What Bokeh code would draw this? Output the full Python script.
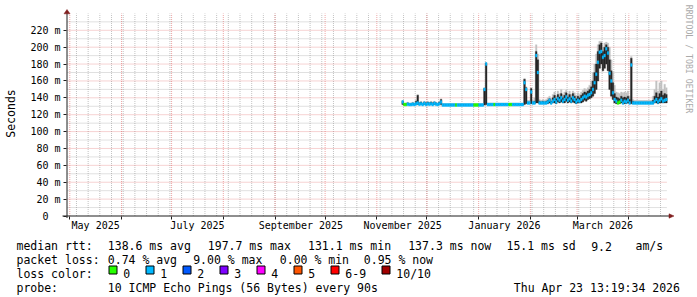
import math
import pandas as pd
from bokeh.plotting import figure
from bokeh.models import Range1d, FixedTicker, ColumnDataSource
from bokeh.core.properties import value
from bokeh.embed import file_html
from bokeh.resources import INLINE

# ---------------- data ----------------
first_day = "2025-11-16"          # first daily sample
axis_origin = "2025-05-01"        # x = days since this date
last_day = "2026-04-23 13:19:34"

median_ms = [
    135, 132, 132, 132.5, 132, 132, 132.5, 132, 133, 134,
    132.5, 133, 132, 133.5, 132, 133, 132.5, 133, 132, 133.5,
    132.5, 132, 133, 135, 131.5, 131.5, 131.5, 131.5, 131.5, 131.5,
    131.5, 131.5, 131.5, 131.5, 131.5, 131.5, 131.5, 131.5, 131.5, 131.5,
    131.5, 131.5, 131.5, 131.5, 131.5, 131.5, 131.5, 131.5, 131.5, 150,
    180, 132, 132, 132, 132, 132, 132, 132, 132, 132,
    132, 132, 132, 132, 132, 132, 132, 132, 132, 132,
    132, 132, 132, 158, 150, 134, 134, 147, 134, 134,
    190, 170, 134, 134, 134, 134, 134, 135, 137, 134,
    136, 138, 135, 139, 137, 140, 136, 138, 141, 137,
    139, 136, 140, 138, 135, 137, 136, 138, 140, 142,
    141, 143, 144, 146, 150, 158, 168, 182, 194, 195,
    188, 190, 198, 193, 169, 160, 146, 138, 136, 134,
    135, 137, 134, 136, 135, 137, 134, 179, 134, 134,
    134, 134, 134, 134, 134, 134, 134, 134, 134, 134,
    134, 136, 138, 135, 137, 139, 136, 137, 138,
]

# lowest ping of the day (bottom of the smoke)
smoke_bottom_ms = [
    132, 131.5, 131.5, 132, 131.5, 131.5, 132, 131.5, 132, 132,
    132, 132, 131.5, 132, 131.5, 132, 132, 132, 131.5, 132,
    132, 131.5, 132, 132, 131, 131, 131, 131, 131, 131,
    131, 131, 131, 131, 131, 131, 131, 131, 131, 131,
    131, 131, 131, 131, 131, 131, 131, 131, 131, 131.5,
    132, 131.5, 131.5, 131.5, 131.5, 131.5, 131.5, 131.5, 131.5, 131.5,
    131.5, 131.5, 131.5, 131.5, 131.5, 131.5, 131.5, 131.5, 131.5, 131.5,
    131.5, 131.5, 131.5, 132, 133, 133, 133, 133, 133, 133,
    134, 134, 133, 133, 133, 133, 133, 133, 134, 133,
    134, 134, 133, 135, 134, 135, 134, 134, 136, 134,
    135, 134, 135, 134, 133, 134, 134, 134, 135, 137,
    136, 138, 139, 140, 142, 145, 150, 160, 175, 180,
    172, 175, 180, 172, 150, 142, 138, 134, 133, 133,
    133, 134, 133, 133, 133, 134, 133, 133, 133, 133,
    133, 133, 133, 133, 133, 133, 133, 133, 133, 133,
    133, 134, 134, 133, 134, 134, 134, 134, 134,
]

# top of the dense (dark) part of the smoke
core_top_ms = [
    136, 133, 133, 134, 133, 133, 134, 133, 136, 143,
    134, 135, 133, 135, 134, 135, 134, 135, 134, 135,
    134, 133, 135, 138, 132.5, 132.5, 132.5, 132.5, 132.5, 132.5,
    132.5, 132.5, 132.5, 132.5, 132.5, 132.5, 132.5, 132.5, 132.5, 132.5,
    132.5, 132.5, 132.5, 132.5, 132.5, 132.5, 132.5, 132.5, 132.5, 151,
    181, 133, 133, 133, 133, 133, 133, 133, 133, 133,
    133, 133, 133, 133, 133, 133, 133, 133, 133, 133,
    133, 133, 133, 162, 152, 135, 135, 151, 135, 136,
    195, 185, 136, 135, 136, 135, 136, 137, 139, 136,
    140, 143, 139, 144, 141, 145, 140, 143, 146, 141,
    144, 140, 145, 142, 139, 142, 140, 143, 145, 147,
    146, 148, 150, 153, 160, 170, 180, 195, 203, 205,
    195, 200, 203, 200, 185, 172, 158, 145, 141, 140,
    139, 142, 140, 141, 140, 142, 138, 187, 136, 135,
    135, 135, 135, 135, 135, 135, 135, 135, 135, 135,
    137, 142, 146, 141, 145, 148, 143, 145, 144,
]

# highest ping of the day (top of the light smoke)
smoke_top_ms = [
    137, 134, 134, 135, 134, 134, 135, 134, 137, 144,
    135, 136, 134, 136, 135, 136, 135, 136, 135, 136,
    135, 134, 136, 139, 133, 133, 133, 133, 133, 133,
    133, 133, 133, 133, 133, 133, 133, 133, 133, 133,
    133, 133, 133, 133, 133, 133, 133, 133, 133, 152,
    182, 134, 134, 134, 134, 134, 134, 134, 134, 134,
    134, 134, 134, 134, 134, 134, 134, 134, 134, 134,
    134, 134, 134, 163, 153, 137, 137, 152, 137, 140,
    203, 192, 138, 137, 138, 137, 138, 140, 142, 139,
    144, 147, 142, 148, 145, 150, 144, 147, 149, 145,
    148, 144, 148, 146, 143, 146, 144, 147, 149, 151,
    150, 152, 155, 160, 170, 180, 192, 203, 207, 207,
    200, 205, 206, 205, 200, 185, 170, 155, 147, 146,
    145, 147, 146, 147, 146, 148, 142, 189, 138, 137,
    137, 137, 137, 137, 137, 137, 137, 137, 137, 137,
    142, 150, 160, 148, 158, 160, 150, 156, 152,
]

# loss bucket of the median (index into loss_names / loss_colors)
loss_level = [
    1, 0, 0, 1, 1, 1, 1, 1, 1, 1,
    1, 1, 1, 1, 1, 1, 1, 1, 1, 1,
    1, 1, 1, 1, 1, 1, 1, 1, 1, 1,
    1, 1, 0, 1, 1, 1, 1, 1, 1, 1,
    1, 1, 1, 0, 0, 0, 1, 1, 1, 1,
    1, 1, 1, 1, 1, 0, 1, 1, 1, 1,
    1, 1, 1, 1, 0, 0, 1, 1, 1, 1,
    1, 1, 1, 1, 1, 1, 1, 1, 1, 1,
    1, 1, 1, 1, 1, 1, 1, 1, 1, 1,
    1, 1, 1, 1, 1, 1, 1, 1, 1, 1,
    1, 1, 1, 1, 1, 1, 1, 1, 1, 1,
    1, 1, 1, 1, 1, 1, 1, 1, 1, 1,
    1, 1, 1, 1, 1, 1, 1, 1, 1, 0,
    0, 1, 1, 1, 1, 1, 1, 1, 1, 1,
    1, 1, 1, 1, 1, 1, 1, 1, 1, 1,
    1, 1, 1, 1, 1, 1, 1, 1, 1,
]

loss_names = ["0", "1", "2", "3", "4", "5", "6-9", "10/10"]
loss_colors = ["#26ff00", "#00b8ff", "#0059ff", "#7e00ff",
               "#ff00ff", "#ff5500", "#ff0000", "#a10000"]

y_ticks = [0, 20, 40, 60, 80, 100, 120, 140, 160, 180, 200, 220]
y_tick_labels = ["0\u00a0\u00a0", "20 m", "40 m", "60 m", "80 m", "100 m", "120 m",
                 "140 m", "160 m", "180 m", "200 m", "220 m"]
y_minor = [10, 30, 50, 70, 90, 110, 130, 150, 170, 190, 210, 230]

month_starts = ["2025-05-01", "2025-06-01", "2025-07-01", "2025-08-01",
                "2025-09-01", "2025-10-01", "2025-11-01", "2025-12-01",
                "2026-01-01", "2026-02-01", "2026-03-01", "2026-04-01"]
label_months = ["2025-05-01", "2025-07-01", "2025-09-01",
                "2025-11-01", "2026-01-01", "2026-03-01"]
label_texts = ["May 2025", "July 2025", "September 2025",
               "November 2025", "January 2026", "March 2026"]
first_monday = "2025-05-05"

y_title = "Seconds"
rtt_stats = ["138.6 ms avg", "197.7 ms max", "131.1 ms min", "137.3 ms now",
             "15.1 ms sd", "9.2", "am/s"]
loss_stats = ["0.74 % avg", "9.00 % max", "0.00 % min", "0.95 % now"]
probe_text = "10 ICMP Echo Pings (56 Bytes) every 90s"
stamp_text = "Thu Apr 23 13:19:34 2026"
watermark = "RRDTOOL / TOBI OETIKER"

# ---------------- geometry (canvas pixels -> data) ----------------
W, H = 697, 297
DAY0_PX, PX_PER_DAY = 69.3, 1.6687
YZERO_PX, PX_PER_MS = 215.5, 0.8441
FONT = "DejaVu Sans Mono"
axis_col = "#1f1f1f"
arrow_col = "#801f1f"


def X(px):
    return (px - DAY0_PX) / PX_PER_DAY


def Y(py):
    return (YZERO_PX - py) / PX_PER_MS


origin = pd.Timestamp(axis_origin)
end_day = (pd.Timestamp(last_day) - origin) / pd.Timedelta(days=1)


def dnum(s):
    return (pd.Timestamp(s) - origin).days


days = [(d - origin).days for d in pd.date_range(first_day, periods=len(median_ms), freq="D")]
half_band = 1.5 / PX_PER_MS

src = ColumnDataSource(dict(
    left=days, right=[d + 1 for d in days],
    low=smoke_bottom_ms, core=core_top_ms, smoke=smoke_top_ms,
    mlo=[m - half_band for m in median_ms], mhi=[m + half_band for m in median_ms],
    color=[loss_colors[k] for k in loss_level],
))

# the frame covers the whole canvas; the axes are pinned inside it
p = figure(width=W, height=H, title=None,
           x_range=Range1d(X(0), X(W)), y_range=Range1d(Y(H), Y(0)),
           output_backend="svg", toolbar_location=None, min_border=0,
           background_fill_color="white", border_fill_color="white",
           outline_line_color=None)
p.xgrid.visible = False
p.ygrid.visible = False

# ---- grid (dotted, confined to the plot area) ----
plot_left, plot_right, grid_top = X(67), end_day, Y(13)
month_days = [dnum(m) for m in month_starts]
monday_days = list(range(dnum(first_monday), int(end_day) + 1, 7))
p.segment(x0=monday_days, y0=[0] * len(monday_days), x1=monday_days,
          y1=[grid_top] * len(monday_days),
          line_color="#8f8f8f", line_alpha=0.55, line_width=1, line_dash="1 1")
p.segment(x0=[plot_left] * len(y_minor), y0=y_minor, x1=[plot_right] * len(y_minor), y1=y_minor,
          line_color="#8f8f8f", line_alpha=0.55, line_width=1, line_dash="1 1")
p.segment(x0=month_days, y0=[0] * len(month_days), x1=month_days,
          y1=[grid_top] * len(month_days),
          line_color="#de4f4f", line_alpha=0.5, line_width=1, line_dash="1 1")
p.segment(x0=[plot_left] * (len(y_ticks) - 1), y0=y_ticks[1:],
          x1=[plot_right] * (len(y_ticks) - 1), y1=y_ticks[1:],
          line_color="#de4f4f", line_alpha=0.5, line_width=1, line_dash="1 1")

# ---- smoke and median ----
p.quad(left="left", right="right", bottom="low", top="smoke", source=src,
       fill_color="#c2c2c2", line_color="#c2c2c2", line_width=0.3)
p.quad(left="left", right="right", bottom="low", top="core", source=src,
       fill_color="#262626", line_color="#262626", line_width=0.3)
p.quad(left="left", right="right", bottom="mlo", top="mhi", source=src,
       fill_color="color", line_color="color", line_width=0.3)

# ---- axes (pinned at the plot-area edges) ----
xa = p.xaxis[0]
xa.fixed_location = 0
label_days = [dnum(m) + 15.5 for m in label_months]
xa.ticker = FixedTicker(ticks=label_days, minor_ticks=month_days)
xa.major_label_overrides = {d: t for d, t in zip(label_days, label_texts)}
xa.major_tick_out = 0
xa.major_tick_in = 0
xa.major_tick_line_color = None
xa.minor_tick_out = 3
xa.minor_tick_in = 0
xa.minor_tick_line_color = axis_col
xa.axis_line_color = None
xa.major_label_text_font = FONT
xa.major_label_text_font_size = "10px"
xa.major_label_text_color = "black"
xa.major_label_standoff = 1

ya = p.yaxis[0]
ya.fixed_location = X(66)
ya.ticker = FixedTicker(ticks=y_ticks)
ya.major_label_overrides = {t: s for t, s in zip(y_ticks, y_tick_labels)}
ya.major_tick_out = 3
ya.major_tick_in = 0
ya.major_tick_line_color = axis_col
ya.minor_tick_out = 0
ya.minor_tick_in = 0
ya.axis_line_color = None
ya.major_label_text_font = FONT
ya.major_label_text_font_size = "10px"
ya.major_label_text_color = "black"
ya.major_label_standoff = 3

# axis lines and arrow heads
p.segment(x0=[X(66.5), X(62)], y0=[Y(217.5), Y(215.5)], x1=[X(66.5), X(669)], y1=[Y(12), Y(215.5)],
          line_color=axis_col, line_width=1)
p.patches(xs=[[X(63.5), X(69.5), X(66.5)], [X(668.5), X(668.5), X(673.5)]],
          ys=[[Y(13.3), Y(13.3), Y(9.0)], [Y(213.3), Y(217.7), Y(215.5)]],
          fill_color=arrow_col, line_color=arrow_col, line_width=0.5)

# vertical texts: axis title and watermark
p.text(x=[X(10.5)], y=[Y(113)], text=[y_title], angle=math.pi / 2,
       text_font=value(FONT), text_font_size=value("11.5px"), text_color="black",
       text_align="center", text_baseline="middle")
p.text(x=[X(688)], y=[Y(58.5)], text=[watermark], angle=-math.pi / 2,
       text_font=value(FONT), text_font_size=value("8.2px"), text_color="#aaaaaa",
       text_align="center", text_baseline="middle")

# ---------------- legend block ----------------
b1, b2, b3, b4 = 245.5, 259.3, 273, 287
tx, ty, tt = [], [], []


def add(xpos, ypos, s):
    tx.append(X(xpos))
    ty.append(Y(ypos))
    tt.append(s)


add(16, b1, "median rtt:")
for xpos, s in zip([107.3, 207.3, 307.5, 407.7, 506, 590.7, 635], rtt_stats):
    add(xpos, b1, s)
add(16, b2, "packet loss:")
for xpos, s in zip([107.3, 192.7, 279.3, 363.3], loss_stats):
    add(xpos, b2, s)
add(16, b3, "loss color:")
sq_left = [108.5, 145.5, 182.5, 219.5, 256.5, 293.5, 330.5, 381.5]
for l, name in zip(sq_left, loss_names):
    add(l + 14.3, b3, name)
add(16, b4, "probe:")
add(107.3, b4, probe_text)
add(513.3, b4, stamp_text)

p.text(x=tx, y=ty, text=tt, text_font=value(FONT), text_font_size=value("11.5px"),
       text_color="black", text_align="left", text_baseline="alphabetic")
p.quad(left=[X(l) for l in sq_left], right=[X(l + 8) for l in sq_left],
       top=[Y(265.5)] * len(sq_left), bottom=[Y(273.5)] * len(sq_left),
       fill_color=loss_colors, line_color="black", line_width=1)

open("out.html", "w").write(file_html(p, INLINE))
